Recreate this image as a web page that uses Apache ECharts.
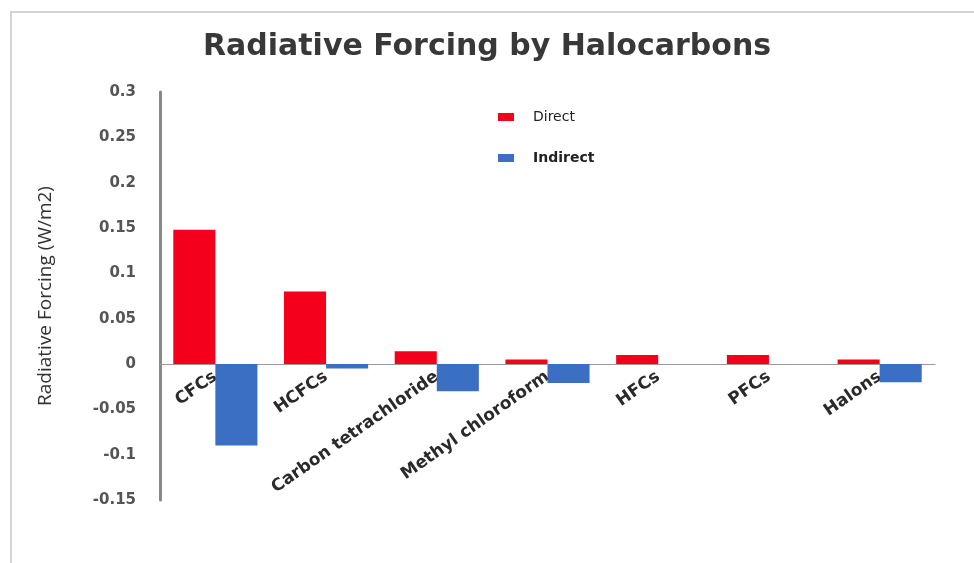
<!DOCTYPE html>
<html><head><meta charset="utf-8">
<script src="https://cdn.jsdelivr.net/npm/echarts@6/dist/echarts.min.js"></script>
<style>html,body{margin:0;padding:0;background:#fff}#c{width:974px;height:563px}</style>
</head><body><div id="c"></div>
<script>
const categories = ['CFCs','HCFCs','Carbon tetrachloride','Methyl chloroform','HFCs','PFCs','Halons'];
const directValues = [0.148, 0.08, 0.014, 0.005, 0.01, 0.01, 0.005];
const indirectValues = [-0.09, -0.005, -0.03, -0.021, 0, 0, -0.02];
const seriesNames = ['Direct','Indirect'];

const chart = echarts.init(document.getElementById('c'));
chart.setOption({
  backgroundColor: '#fff',
  animation: false,
  textStyle: { fontFamily: 'DejaVu Sans' },
  graphic: [{
    type: 'rect', shape: { x: 11, y: 12, width: 1000, height: 600 },
    style: { fill: 'none', stroke: '#d4d4d4', lineWidth: 2 }, z: -1
  }],
  title: {
    text: 'Radiative Forcing by Halocarbons',
    left: 'center', top: 27,
    textStyle: { fontSize: 30, fontWeight: 'bold', color: '#383838', fontFamily: 'DejaVu Sans' }
  },
  legend: {
    orient: 'vertical', left: 493, top: 105,
    itemWidth: 16, itemHeight: 8, itemGap: 27,
    icon: 'rect',
    data: [
      { name: seriesNames[0], textStyle: { fontWeight: 'normal' } },
      { name: seriesNames[1], textStyle: { fontWeight: 'bold' } }
    ],
    textStyle: { fontSize: 14, color: '#222', fontFamily: 'DejaVu Sans', padding: [0, 0, 0, 14] }
  },
  grid: { left: 160, right: 39, top: 92, bottom: 63, containLabel: false, outerBoundsMode: 'none' },
  xAxis: {
    type: 'category', data: categories,
    offset: -136,
    axisLine: { onZero: false, lineStyle: { color: '#999', width: 1 } },
    axisTick: { show: false },
    axisLabel: { rotate: 35, fontSize: 17, fontWeight: 'bold', color: '#2a2a2a', margin: 11, interval: 0,
      fontFamily: 'DejaVu Sans' }
  },
  yAxis: {
    type: 'value', min: -0.15, max: 0.3, interval: 0.05,
    name: 'Radiative Forcing (W/m2)', nameLocation: 'middle', nameGap: 105,
    nameTextStyle: { fontSize: 19, color: '#333', fontFamily: 'Open Sans' },
    axisLine: { show: true, onZero: false, lineStyle: { color: '#888', width: 3 } },
    axisTick: { show: false },
    splitLine: { show: false },
    axisLabel: { fontSize: 15, fontWeight: 'bold', color: '#555', margin: 24, fontFamily: 'DejaVu Sans',
      formatter: v => String(Math.round(v * 100) / 100) }
  },
  series: [
    { name: seriesNames[0], type: 'bar', data: directValues, barGap: '0%', barCategoryGap: '24%',
      itemStyle: { color: '#f5001c' } },
    { name: seriesNames[1], type: 'bar', data: indirectValues,
      itemStyle: { color: '#3b6fc4' } }
  ]
});
</script></body></html>
